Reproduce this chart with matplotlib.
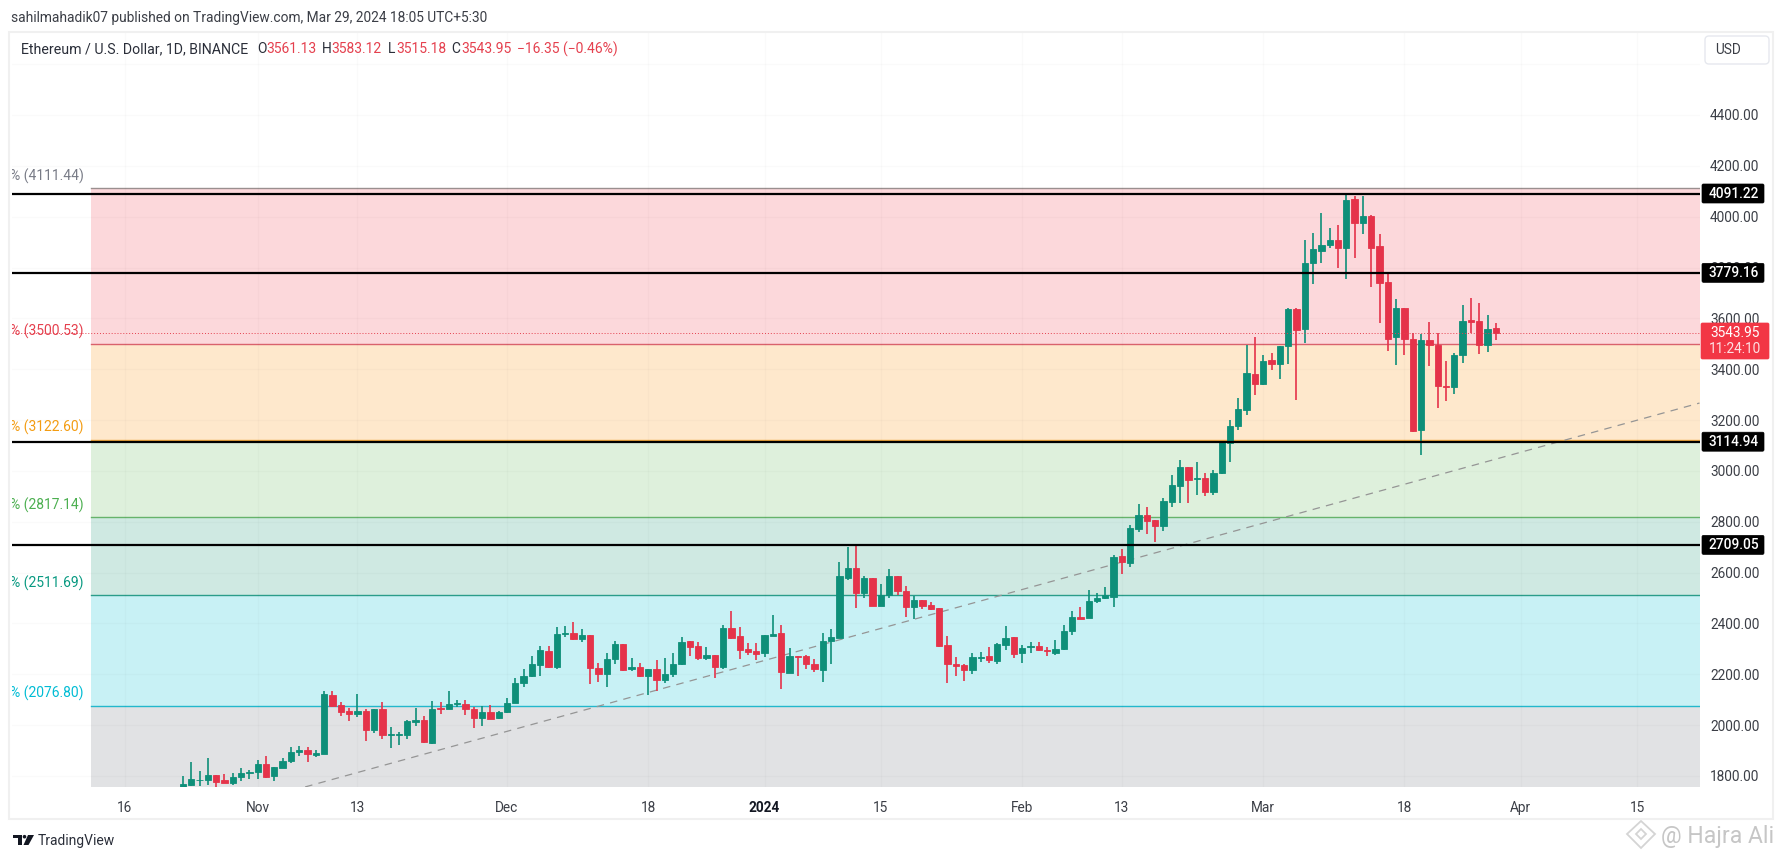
import numpy as np
import pandas as pd
import matplotlib
matplotlib.use('Agg')
import matplotlib.pyplot as plt
import matplotlib.dates as mdates
from matplotlib.patches import Rectangle, FancyBboxPatch, Polygon, Circle

plt.rcParams['font.family'] = ['Roboto', 'DejaVu Sans']

# daily candles, first one is Oct 23 2023
opens = [1755,1766,1785,1784,1805,1784,1774,1795,1812,1817,
         1847,1799,1831,1858,1893,1904,1884,1885,2120,2079,
         2054,2045,2057,1980,2062,1961,1962,1961,2014,2020,
         1928,2067,2063,2083,2083,2065,2027,2050,2027,2052,
         2088,2165,2193,2235,2292,2227,2360,2361,2340,2354,
         2225,2200,2260,2318,2219,2227,2195,2221,2178,2201,
         2239,2330,2310,2263,2275,2227,2382,2351,2300,2292,
         2282,2351,2361,2206,2272,2272,2240,2218,2330,2344,
         2580,2618,2521,2578,2470,2511,2588,2526,2466,2492,
         2473,2460,2314,2242,2235,2217,2265,2272,2252,2315,
         2348,2282,2309,2311,2296,2285,2298,2370,2427,2420,
         2488,2499,2505,2665,2636,2771,2827,2806,2783,2878,
         2941,3015,2969,2972,2917,2990,3111,3177,3240,3381,
         3341,3436,3420,3491,3635,3558,3816,3867,3889,3908,
         3878,4070,3976,4003,3885,3743,3528,3642,3519,3161,
         3515,3495,3334,3331,3457,3592,3588,3497,3561.13]
highs = [1800,1856,1820,1871,1805,1808,1810,1830,1824,1863,
         1879,1834,1869,1913,1918,1913,1902,2136,2136,2090,
         2066,2121,2065,2062,2090,1993,1974,2020,2069,2036,
         2094,2091,2134,2099,2099,2070,2077,2079,2057,2105,
         2184,2220,2273,2311,2313,2385,2391,2404,2378,2354,
         2246,2282,2332,2318,2263,2243,2221,2256,2263,2282,
         2345,2330,2326,2306,2275,2393,2450,2387,2324,2322,
         2353,2434,2393,2302,2272,2276,2259,2361,2377,2640,
         2702,2713,2587,2580,2554,2614,2588,2549,2508,2492,
         2486,2460,2351,2267,2241,2285,2286,2309,2324,2390,
         2348,2315,2327,2328,2309,2335,2393,2449,2466,2532,
         2521,2545,2671,2692,2787,2868,2859,2806,2895,2984,
         3043,3015,3034,2990,3004,3115,3200,3285,3495,3525,
         3456,3462,3491,3640,3640,3908,3937,4013,3954,3967,
         4092,4081,4081,4007,3931,3777,3676,3642,3544,3537,
         3584,3544,3434,3465,3653,3679,3662,3613,3583.12]
lows = [1754,1761,1762,1766,1758,1771,1766,1782,1787,1787,
        1792,1780,1830,1850,1879,1856,1873,1885,2070,2037,
        2016,2033,1939,1970,1944,1911,1922,1947,1997,1931,
        1926,2044,2062,2070,2040,1990,1998,2024,2024,2049,
        2086,2151,2191,2193,2223,2220,2345,2335,2326,2162,
        2168,2151,2240,2214,2214,2191,2119,2136,2167,2188,
        2235,2272,2256,2256,2184,2220,2337,2259,2275,2256,
        2267,2350,2141,2204,2193,2222,2210,2170,2239,2344,
        2571,2461,2501,2469,2469,2501,2513,2427,2416,2457,
        2453,2306,2165,2195,2175,2201,2250,2243,2241,2296,
        2264,2243,2283,2292,2273,2275,2296,2355,2416,2420,
        2479,2496,2466,2595,2623,2758,2752,2719,2765,2859,
        2875,2875,2905,2901,2905,2988,3035,3161,3220,3299,
        3338,3397,3360,3420,3279,3502,3735,3819,3878,3799,
        3754,3836,3932,3725,3583,3473,3417,3456,3152,3063,
        3413,3249,3276,3302,3423,3541,3460,3468,3515.18]
closes = [1768,1787,1786,1804,1776,1772,1797,1812,1817,1847,
          1797,1834,1859,1894,1901,1885,1889,2122,2077,2052,
          2044,2054,1980,2062,1961,1964,1965,2015,2022,1932,
          2065,2062,2082,2086,2063,2027,2050,2025,2052,2088,
          2164,2195,2242,2296,2229,2357,2363,2340,2353,2225,
          2200,2260,2318,2217,2230,2193,2221,2178,2201,2240,
          2328,2307,2263,2275,2229,2382,2344,2297,2289,2280,
          2353,2358,2209,2272,2269,2239,2220,2331,2347,2587,
          2617,2521,2578,2470,2511,2588,2528,2466,2492,2469,
          2456,2310,2241,2231,2217,2267,2269,2258,2318,2343,
          2279,2302,2311,2294,2290,2298,2370,2425,2419,2488,
          2501,2512,2663,2640,2777,2827,2803,2783,2882,2946,
          3015,2964,2972,2917,2993,3115,3177,3242,3386,3341,
          3434,3419,3491,3635,3554,3819,3873,3887,3908,3878,
          4066,3976,4003,3875,3738,3519,3642,3519,3158,3515,
          3494,3334,3329,3455,3588,3587,3497,3559,3543.95]

# fib retracement levels and the colours of the bands below each one
fib_levels = [4111.44, 3500.53, 3122.60, 2817.14, 2511.69, 2076.80]
fib_line_colors = ['#9a8f8f', '#d9616c', '#f0a63c', '#66b36b', '#2a9d8a', '#22b8cc']
fib_text_colors = ['#787b86', '#e5404e', '#f39c12', '#4caf50', '#089981', '#00bcd4']
fib_fills = ['#fcd8db', '#fee8cc', '#def0dc', '#cfe9e2', '#c8f1f5', '#e1e2e4']

# hand drawn support and resistance
black_levels = [4091.22, 3779.16, 3114.94, 2709.05]

last_price = 3543.95
countdown = '11:24:10'

trend_dates = ['2023-11-06 17:00', '2024-04-22 12:00']
trend_prices = [1757, 3267]

y_ticks = list(range(1800, 4601, 200))
tick_dates = ['2023-10-16', '2023-11-01', '2023-11-13', '2023-12-01', '2023-12-18', '2024-01-01',
              '2024-01-15', '2024-02-01', '2024-02-13', '2024-03-01', '2024-03-18', '2024-04-01', '2024-04-15']
tick_labels = ['16', 'Nov', '13', 'Dec', '18', '2024', '15', 'Feb', '13', 'Mar', '18', 'Apr', '15']

W, H = 1786, 860
fig = plt.figure(figsize=(W / 100, H / 100), dpi=100, facecolor='white')


def fx(px):
    return px / W


def fy(py):
    return 1 - py / H


# chart pane in pixels
left, right, top, bottom = 12, 1700, 32, 787
ax = fig.add_axes([fx(left), fy(bottom), fx(right - left), fy(top) - fy(bottom)])

# price scale: 200 usd is 50.85 px, 4400 sits at py 115
ax.set_ylim(4400 - (bottom - 115) / 0.25423, 4400 + (115 - top) / 0.25423)

# time scale: 8.31 px a day, Nov 1 at px 257.7
nov1 = mdates.date2num(pd.Timestamp('2023-11-01'))
ax.set_xlim(nov1 + (left - 257.7) / 8.31, nov1 + (right - 257.7) / 8.31)

dates = mdates.date2num(pd.date_range('2023-10-23', periods=len(opens)))
opens_a = np.array(opens)
closes_a = np.array(closes)
ups = closes_a >= opens_a
colors = np.where(ups, '#0e8f79', '#e5334a')

# fib bands start at px 91 and run to the edge of the pane
band_start = nov1 + (91 - 257.7) / 8.31
x_end = ax.get_xlim()[1]
y_floor = ax.get_ylim()[0]
edges = fib_levels + [y_floor]
for i in range(len(fib_levels)):
    ax.fill_between([band_start, x_end], edges[i + 1], edges[i], color=fib_fills[i], lw=0, zorder=1)
    ax.plot([band_start, x_end], [fib_levels[i], fib_levels[i]], color=fib_line_colors[i], lw=1, zorder=2)
    ax.text(nov1 + (84 - 257.7) / 8.31, fib_levels[i] + 12 / 0.25423, '%% (%.2f)' % fib_levels[i],
            color=fib_text_colors[i], fontsize=10, ha='right', va='center', zorder=6, clip_on=True)

# grid
tick_x = mdates.date2num(pd.to_datetime(tick_dates))
ax.set_xticks(tick_x)
ax.set_yticks(y_ticks)
ax.grid(True, color='black', alpha=0.02, lw=1)
ax.set_axisbelow(False)
for gl in ax.get_xgridlines() + ax.get_ygridlines():
    gl.set_zorder(2)

# trend line
ax.plot(mdates.date2num(pd.to_datetime(trend_dates)), trend_prices, color='#959595', lw=0.9,
        ls=(0, (6, 5)), zorder=3)

# candles
ax.vlines(dates, lows, highs, colors=colors, lw=1.2, zorder=4)
ax.bar(dates, np.abs(closes_a - opens_a), bottom=np.minimum(opens_a, closes_a), width=0.76,
       color=colors, edgecolor=colors, lw=0.6, zorder=5)

# black levels and last price line
for lv in black_levels:
    ax.plot(ax.get_xlim(), [lv, lv], color='black', lw=1.6, zorder=6)
ax.plot(ax.get_xlim(), [last_price, last_price], color='#e5404e', lw=0.7, ls=(0, (1, 2)), zorder=6)

# axes look
for s in ax.spines.values():
    s.set_visible(False)
ax.yaxis.tick_right()
ax.tick_params(axis='both', length=0)
ax.set_yticklabels(['%.2f' % v if v < 4600 else '' for v in y_ticks], fontsize=9.8, color='#3b3e46')
ax.tick_params(axis='y', pad=7.2)
ax.set_xticklabels(tick_labels, fontsize=9.8, color='#3b3e46')
ax.tick_params(axis='x', pad=10)
for lab in ax.get_xticklabels():
    if lab.get_text() == '2024':
        lab.set_fontweight('bold')
        lab.set_color('#131722')

# outer frame
fig.add_artist(Rectangle((fx(9), fy(819)), fx(1773 - 9), fy(32) - fy(819), transform=fig.transFigure,
                         fill=False, ec='#f0f0f0', lw=1.5))

# price tags on the scale
overlay = fig.add_axes([0, 0, 1, 1], facecolor='none')
overlay.set_xlim(0, W)
overlay.set_ylim(H, 0)
overlay.axis('off')


def py_of(v):
    return 115 + (4400 - v) * 0.25423


for lv in black_levels:
    p = py_of(lv)
    overlay.add_patch(FancyBboxPatch((1702, p - 9.5), 62, 19, boxstyle='round,pad=0,rounding_size=1.5',
                                     fc='black', ec='black', lw=0.5))
    overlay.text(1734, p, '%.2f' % lv, color='white', fontsize=9.8, fontweight='medium', ha='center', va='center')

p = py_of(last_price)
overlay.add_patch(FancyBboxPatch((1701, 323), 68, 36, boxstyle='round,pad=0,rounding_size=1.5',
                                 fc='#f23645', ec='#f23645', lw=0.5))
overlay.text(1735, 333, '%.2f' % last_price, color='white', fontsize=9.8, ha='center', va='center')
overlay.text(1735, 349, countdown, color='#fde0e3', fontsize=9.8, ha='center', va='center')

# USD button
overlay.add_patch(FancyBboxPatch((1705, 36), 64, 28, boxstyle='round,pad=0,rounding_size=4',
                                 fc='white', ec='#e6e8ee', lw=1))
overlay.text(1715, 50, 'USD', color='#3b3e46', fontsize=9.8, va='center')

# header texts
overlay.text(11, 18, 'sahilmahadik07 published on TradingView.com, Mar 29, 2024 18:05 UTC+5:30',
             color='#3b3e46', fontsize=9.9, va='center')
overlay.text(21, 49, 'Ethereum / U.S. Dollar, 1D, BINANCE', color='#2a2e39', fontsize=10.2, va='center')
ohlc_x = [(257, 'O', 266, '3561.13'), (322, 'H', 331, '3583.12'), (388, 'L', 396, '3515.18'), (451, 'C', 461, '3543.95')]
for x1, k, x2, val in ohlc_x:
    overlay.text(x1, 49, k, color='#2a2e39', fontsize=10, va='center')
    overlay.text(x2, 49, val, color='#e5404e', fontsize=10, va='center')
overlay.text(517, 49, '\u221216.35 (\u22120.46%)', color='#e5404e', fontsize=10, va='center')

# tradingview logo and name
overlay.add_patch(Rectangle((13, 835), 8.5, 3.4, fc='#131722', ec='none'))
overlay.add_patch(Rectangle((17.5, 835), 4, 10, fc='#131722', ec='none'))
overlay.add_patch(Circle((24.5, 836.7), 1.8, fc='#131722', ec='none'))
overlay.add_patch(Polygon([[28, 835], [34, 835], [28.5, 845], [23.5, 845]], fc='#131722', ec='none'))
overlay.text(38, 841, 'TradingView', color='#2a2e39', fontsize=10, va='center')

# watermark bottom right
overlay.add_patch(Polygon([[1641, 821], [1655, 834], [1641, 848], [1627, 834]], fill=False, ec='#d4d4d4', lw=1.3))
overlay.add_patch(Polygon([[1641, 829], [1646, 834], [1641, 839], [1636, 834]], fill=False, ec='#d4d4d4', lw=1.3))
overlay.text(1661, 836, '@ Hajra Ali', color='#c6c6c6', fontsize=16.6, va='center')

fig.savefig('out.png', dpi=100, facecolor='white')
